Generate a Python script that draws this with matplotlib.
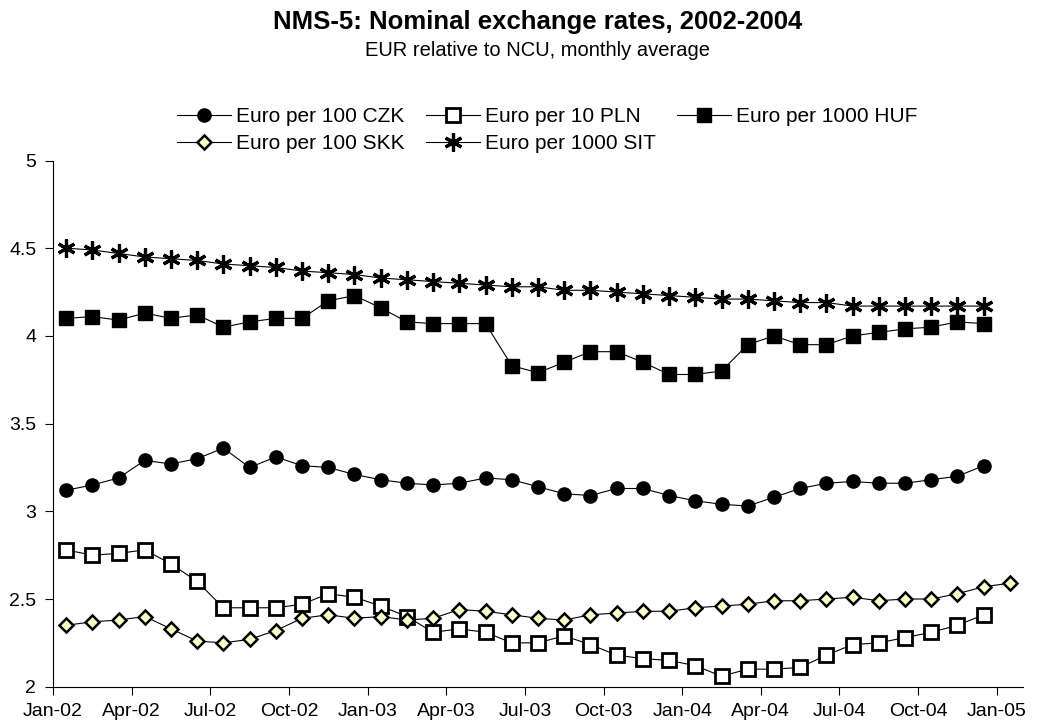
import matplotlib
matplotlib.use('Agg')
import matplotlib.pyplot as plt
from matplotlib.ticker import FuncFormatter

plt.rcParams['font.family'] = ['Liberation Sans', 'DejaVu Sans']

tick_labels = ['Jan-02', 'Apr-02', 'Jul-02', 'Oct-02', 'Jan-03', 'Apr-03', 'Jul-03',
               'Oct-03', 'Jan-04', 'Apr-04', 'Jul-04', 'Oct-04', 'Jan-05']

# monthly averages, Jan-02 onwards
czk = [3.12, 3.15, 3.19, 3.29, 3.27, 3.30, 3.36, 3.25, 3.31, 3.26, 3.25, 3.21,
       3.18, 3.16, 3.15, 3.16, 3.19, 3.18, 3.14, 3.10, 3.09, 3.13, 3.13, 3.09,
       3.06, 3.04, 3.03, 3.08, 3.13, 3.16, 3.17, 3.16, 3.16, 3.18, 3.20, 3.26]
pln = [2.78, 2.75, 2.76, 2.78, 2.70, 2.60, 2.45, 2.45, 2.45, 2.47, 2.53, 2.51,
       2.46, 2.40, 2.31, 2.33, 2.31, 2.25, 2.25, 2.29, 2.24, 2.18, 2.16, 2.15,
       2.12, 2.06, 2.10, 2.10, 2.11, 2.18, 2.24, 2.25, 2.28, 2.31, 2.35, 2.41]
huf = [4.10, 4.11, 4.09, 4.13, 4.10, 4.12, 4.05, 4.08, 4.10, 4.10, 4.20, 4.23,
       4.16, 4.08, 4.07, 4.07, 4.07, 3.83, 3.79, 3.85, 3.91, 3.91, 3.85, 3.78,
       3.78, 3.80, 3.95, 4.00, 3.95, 3.95, 4.00, 4.02, 4.04, 4.05, 4.08, 4.07]
skk = [2.35, 2.37, 2.38, 2.40, 2.33, 2.26, 2.25, 2.27, 2.32, 2.39, 2.41, 2.39,
       2.40, 2.38, 2.39, 2.44, 2.43, 2.41, 2.39, 2.38, 2.41, 2.42, 2.43, 2.43,
       2.45, 2.46, 2.47, 2.49, 2.49, 2.50, 2.51, 2.49, 2.50, 2.50, 2.53, 2.57,
       2.59]
sit = [4.50, 4.49, 4.47, 4.45, 4.44, 4.43, 4.41, 4.40, 4.39, 4.37, 4.36, 4.35,
       4.33, 4.32, 4.31, 4.30, 4.29, 4.28, 4.28, 4.26, 4.26, 4.25, 4.24, 4.23,
       4.22, 4.21, 4.21, 4.20, 4.19, 4.19, 4.17, 4.17, 4.17, 4.17, 4.17, 4.17]


def months(values):
    # points sit in the middle of each month
    return [i + 0.5 for i in range(len(values))]


fig = plt.figure(figsize=(10.5, 7.24), dpi=100)
ax = fig.add_axes([53 / 1050, 1 - 686.7 / 724, 970 / 1050, 526.2 / 724])

lw = 0.8
h_czk, = ax.plot(months(czk), czk, color='black', lw=lw, marker='o', ms=9.5,
                 mfc='black', mec='black', label='Euro per 100 CZK')
h_pln, = ax.plot(months(pln), pln, color='black', lw=lw, marker='s', ms=9.5,
                 mfc='white', mec='black', mew=2, label='Euro per 10 PLN')
h_huf, = ax.plot(months(huf), huf, color='black', lw=lw, marker='s', ms=10,
                 mfc='black', mec='black', label='Euro per 1000 HUF')
h_skk, = ax.plot(months(skk), skk, color='black', lw=lw, marker='D', ms=7,
                 mfc='#FFFFCC', mec='black', mew=1.8, label='Euro per 100 SKK')
h_sit, = ax.plot(months(sit), sit, color='black', lw=lw, marker=(6, 2, 0), ms=13,
                 mec='black', mew=2.3, label='Euro per 1000 SIT')

ax.set_xlim(0, 37)
ax.set_ylim(2, 5)
ax.set_xticks(range(0, 37, 3))
ax.set_xticklabels(tick_labels)
ax.set_yticks([2, 2.5, 3, 3.5, 4, 4.5, 5])
ax.yaxis.set_major_formatter(FuncFormatter(lambda v, _: f'{v:g}'))
ax.tick_params(axis='both', labelsize=14, length=6, width=0.8, direction='out', pad=6)
for side in ['top', 'right']:
    ax.spines[side].set_visible(False)
for side in ['left', 'bottom']:
    ax.spines[side].set_linewidth(0.8)

fig.text(0.512, 1 - 22 / 724, 'NMS-5: Nominal exchange rates, 2002-2004',
         ha='center', va='center', fontsize=18.5, fontweight='bold')
fig.text(0.512, 1 - 51 / 724, 'EUR relative to NCU, monthly average',
         ha='center', va='center', fontsize=14.5)

fig.legend(handles=[h_czk, h_skk, h_pln, h_sit, h_huf], ncol=3, frameon=False,
           loc='center', bbox_to_anchor=(547 / 1050, 1 - 130 / 724),
           fontsize=15, handlelength=2.6, handletextpad=0.25, columnspacing=1.0,
           labelspacing=0.4, borderpad=0)

fig.savefig('out.png', dpi=100, facecolor='white')
